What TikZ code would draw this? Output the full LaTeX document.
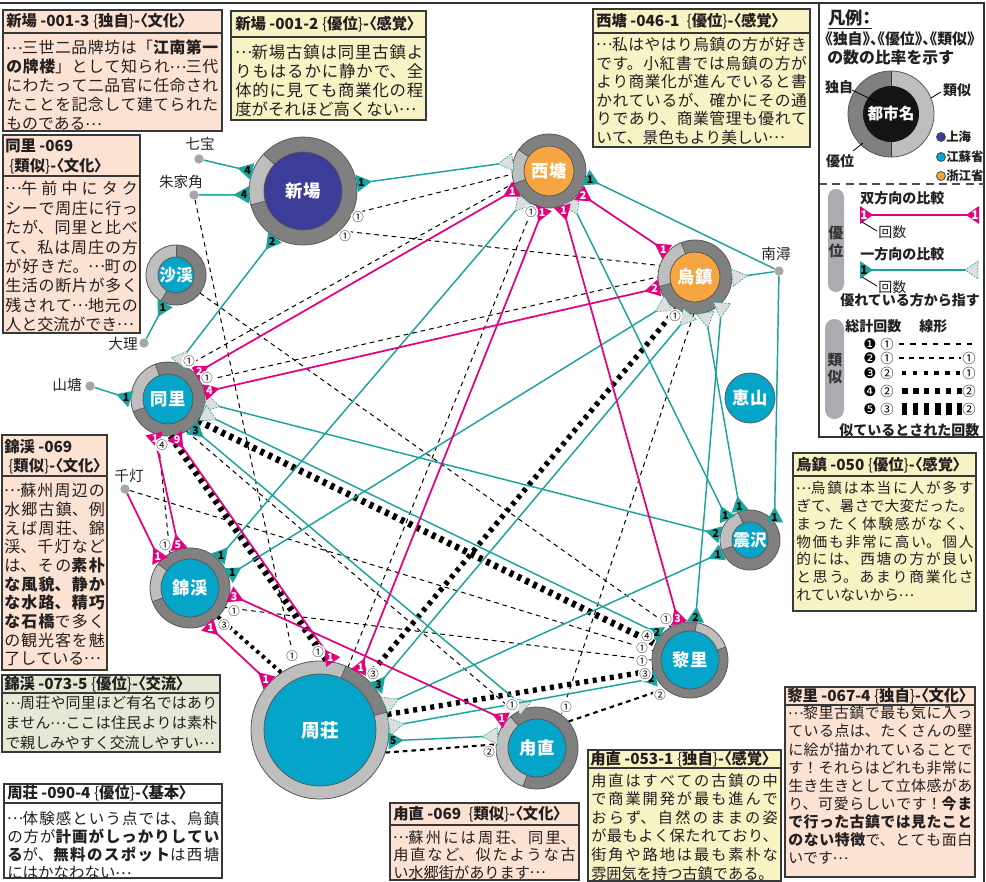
\documentclass[tikz,border=0pt]{standalone}
\usepackage{fontspec}
\setmainfont{Noto Sans CJK JP}
\newfontfamily\paltfont{Noto Sans CJK JP}[RawFeature=+palt]
\newfontfamily\dvfont{DejaVu Sans}
\usetikzlibrary{calc}
\XeTeXlinebreaklocale "ja"
\XeTeXlinebreakskip=0pt plus 3pt minus 0.3pt
\definecolor{tealc}{HTML}{1CA39D}
\definecolor{magc}{HTML}{E4007F}
\definecolor{bluec}{HTML}{04A5C8}
\definecolor{orgc}{HTML}{F5A640}
\definecolor{navyc}{HTML}{3B3D98}
\definecolor{ringd}{HTML}{808080}
\definecolor{ringl}{HTML}{BEBEBE}
\definecolor{pinkc}{HTML}{FCE2D3}
\definecolor{yelc}{HTML}{F7F3C4}
\definecolor{grnc}{HTML}{E3E9D5}
\definecolor{pillc}{HTML}{ABABB2}
\definecolor{dotc}{HTML}{A6A6A6}
\definecolor{inkc}{HTML}{231F20}
\newcommand\hlb{{\mdseries\{}}
\newcommand\hrb{{\mdseries\}}}
\newcommand\el{\makebox[1em][c]{\raisebox{0.3em}[0pt][0pt]{…}}}
\newcommand\town[9]{%
  \fill[ringd] (#2,#3) circle[radius=#4];
  \fill[ringl] (#2,#3) -- ++(-#7:#4) arc[start angle=-#7, end angle=-#8, radius=#4] -- cycle;
  \draw[sepl] (#2,#3) ++(-#7:#5) -- ++(-#7:{#4-#5});
  \draw[sepl] (#2,#3) ++(-#8:#5) -- ++(-#8:{#4-#5});
  \draw[ringo] (#2,#3) circle[radius=#4];
  \fill[#6] (#2,#3) circle[radius=#5];
  \draw[ringo] (#2,#3) circle[radius=#5];
  \node[circle, minimum size={1.5*#4pt}, inner sep=0pt] (#1) at (#2,#3) {};
  \node[townlab] at (#2,#3) {#9};}
\newcommand\tri[4]{%
  \path[#3] ($(#1)!6.5pt!90:(#2)$) -- ($(#1)!11.5pt!(#2)$) -- ($(#1)!6.5pt!-90:(#2)$) -- cycle;
  \node[#3n] at ($(#1)!3.6pt!(#2)$) {#4};}
\newcommand\tedge[4]{%
  \draw[tline] (#1) -- (#2);
  \tri{#1}{#2}{tt}{#3}%
  \if#4y\tri{#2}{#1}{td}{}\fi}
\newcommand\medge[4]{%
  \draw[mline] (#1) -- (#2);
  \tri{#1}{#2}{tm}{#3}%
  \tri{#2}{#1}{tm}{#4}}
\newcommand\tbox[8]{%
  \draw[boxl, fill=#7] (#2,#3) rectangle (#4,#5);
  \draw[boxl] (#2,#6) -- (#4,#6);}
\begin{document}
\begin{tikzpicture}[x=0.75pt, y=-0.75pt,
  boxl/.style={draw=black!78, line width=1.1pt},
  hdr/.style={inner sep=0pt, anchor=west, text=inkc, font=\paltfont\bfseries\fontsize{11.5}{13}\selectfont},
  bodyn/.style={inner sep=0pt, anchor=north west, text=inkc},
  tline/.style={draw=tealc, line width=1.1pt},
  mline/.style={draw=magc, line width=1.3pt},
  tt/.style={fill=tealc},
  ttn/.style={inner sep=0pt, text=black, font=\bfseries\fontsize{8}{8}\selectfont},
  tm/.style={fill=magc},
  tmn/.style={inner sep=0pt, text=white, font=\bfseries\fontsize{8}{8}\selectfont},
  td/.style={fill=black!13, draw=tealc, line width=0.5pt, dash pattern=on 1.2pt off 1pt},
  tdn/.style={inner sep=0pt},
  s1/.style={draw=black, line width=0.75pt, dash pattern=on 3.5pt off 3pt},
  s2/.style={draw=black, line width=1.6pt, dash pattern=on 3.5pt off 3pt},
  s3/.style={draw=black, line width=3pt, dash pattern=on 2.5pt off 3pt},
  s4/.style={draw=black, line width=4pt, dash pattern=on 3pt off 3.5pt},
  s5/.style={draw=black, line width=5pt, dash pattern=on 3pt off 3.5pt},
  cl/.style={inner sep=-0.3pt, circle, fill=white, text=black, font=\fontsize{8.6}{8.6}\selectfont},
  ringo/.style={draw=black!65, line width=0.6pt},
  sepl/.style={draw=black!65, line width=0.6pt},
  townlab/.style={text=white, inner sep=0pt, font=\bfseries},
  dotn/.style={circle, fill=dotc, inner sep=0pt, minimum size=7pt},
  plab/.style={inner sep=0pt, text=black!85, font=\fontsize{11}{11}\selectfont},
  lgb/.style={inner sep=0pt, text=inkc, font=\bfseries\fontsize{10.5}{11}\selectfont},
]
\useasboundingbox (0,0) rectangle (986,882);
\fill[white] (0,0) rectangle (986,882);
% ---------- frame ----------
\draw[line width=1.2pt, black!80] (0,3) -- (984,3) -- (984,882);
% ---------- text boxes ----------
\tbox{b1}{3}{10}{222}{131}{33}{pinkc}{}
\node[hdr] (h1) at (6,21.5) {新場 -001-3 \hlb 独自\hrb-〈文化〉};
\node[bodyn] (t1) at (6,40) {\parbox[t]{159pt}{\fontsize{11.9}{14.25}\selectfont
\el 三世二品牌坊は「{\bfseries 江南第一}\linebreak
{\bfseries の牌楼}」として知られ\el 三代\linebreak
にわたって二品官に任命され\linebreak
たことを記念して建てられた\linebreak
ものである\el}};
\tbox{b2}{231}{11}{426}{120}{37}{yelc}{}
\node[hdr] (h2) at (235,24) {新場 -001-2 \hlb 優位\hrb-〈感覚〉};
\node[bodyn] (t2) at (235,44) {\parbox[t]{141pt}{\fontsize{12.3}{14.25}\selectfont
\el 新場古鎮は同里古鎮よ\linebreak
りもはるかに静かで、全\linebreak
体的に見ても商業化の程\linebreak
度がそれほど高くない\el}};
\tbox{b3}{593}{9}{810}{147}{33}{yelc}{}
\node[hdr] (h3) at (596,21) {西塘 -046-1 \ \hlb 優位\hrb-〈感覚〉};
\node[bodyn] (t3) at (596,37) {\parbox[t]{158pt}{\fontsize{11.8}{13.95}\selectfont
\el 私はやはり烏鎮の方が好き\linebreak
です。小紅書では烏鎮の方が\linebreak
より商業化が進んでいると書\linebreak
かれているが、確かにその通\linebreak
りであり、商業管理も優れて\linebreak
いて、景色もより美しい\el}};
\tbox{b4}{3}{135}{140}{333}{176}{pinkc}{}
\node[hdr, anchor=north west, align=left, font=\paltfont\bfseries\fontsize{11.5}{14.6}\selectfont] (h4) at (5,139) {同里 -069\\\hspace*{3pt}\hlb 類似\hrb-〈文化〉};
\node[bodyn] (t4) at (5,181) {\parbox[t]{99.5pt}{\fontsize{12}{14.57}\selectfont
\el 午前中にタク\linebreak
シーで周庄に行っ\linebreak
たが、同里と比べ\linebreak
て、私は周庄の方\linebreak
が好きだ。\el 町の\linebreak
生活の断片が多く\linebreak
残されて\el 地元の\linebreak
人と交流ができ\el}};
\tbox{b5}{2}{435}{107}{670}{476}{pinkc}{}
\node[hdr, anchor=north west, align=left, font=\paltfont\bfseries\fontsize{11.5}{14.6}\selectfont] (h5) at (4,439) {錦渓 -069\\\hspace*{3pt}\hlb 類似\hrb-〈文化〉};
\node[bodyn] (t5) at (4,483) {\parbox[t]{75.5pt}{\fontsize{12}{14.0}\selectfont
\el 蘇州周辺の\linebreak
水郷古鎮、例\linebreak
えば周荘、錦\linebreak
渓、千灯など\linebreak
は、その{\bfseries 素朴}\linebreak
{\bfseries な風貌、静か}\linebreak
{\bfseries な水路、精巧}\linebreak
{\bfseries な石橋}で多く\linebreak
の観光客を魅\linebreak
了している\el}};
\tbox{b6}{2}{675}{220}{752}{693}{grnc}{}
\node[hdr] (h6) at (4,684) {錦渓 -073-5 \hlb 優位\hrb-〈交流〉};
\node[bodyn] (t6) at (5,696) {\parbox[t]{159pt}{\fontsize{11.2}{15}\selectfont
\el 周荘や同里ほど有名ではあり\linebreak
ません\el ここは住民よりは素朴\linebreak
で親しみやすく交流しやすい\el}};
\tbox{b7}{793}{453}{976}{611}{476}{yelc}{}
\node[hdr] (h7) at (796,465) {烏鎮 -050 \hlb 優位\hrb-〈感覚〉};
\node[bodyn] (t7) at (796,481) {\parbox[t]{133pt}{\fontsize{11}{13.35}\selectfont
\el 烏鎮は本当に人が多す\linebreak
ぎて、暑さで大変だった。\linebreak
まったく体験感がなく、\linebreak
物価も非常に高い。個人\linebreak
的には、西塘の方が良い\linebreak
と思う。あまり商業化さ\linebreak
れていないから\el}};
\tbox{b8}{4}{784}{222}{878}{803}{white}{}
\node[hdr] (h8) at (7,793.5) {周荘 -090-4 \hlb 優位\hrb-〈基本〉};
\node[bodyn] (t8) at (7,811) {\parbox[t]{159pt}{\fontsize{11.6}{13.6}\selectfont
\el 体験感という点では、烏鎮\linebreak
の方が{\bfseries 計画がしっかりしてい}\linebreak
{\bfseries る}が、{\bfseries 無料のスポット}は西塘\linebreak
にはかなわない\el}};
\tbox{b9}{390}{803}{579}{880}{825}{pinkc}{}
\node[hdr] (h9) at (393,814) {甪直 -069 \ \hlb 類似\hrb-〈文化〉};
\node[bodyn] (t9) at (393,830) {\parbox[t]{137pt}{\fontsize{11.4}{13.3}\selectfont
\el 蘇州には周荘、同里、\linebreak
甪直など、似たような古\linebreak
い水郷街があります\el}};
\tbox{b10}{588}{750}{781}{881}{768}{yelc}{}
\node[hdr] (h10) at (590,759) {甪直 -053-1 \hlb 独自\hrb-〈感覚〉};
\node[bodyn] (t10) at (591,773) {\parbox[t]{140pt}{\fontsize{11.4}{13.95}\selectfont
甪直はすべての古鎮の中\linebreak
で商業開発が最も進んで\linebreak
おらず、自然のままの姿\linebreak
が最もよく保たれており、\linebreak
街角や路地は最も素朴な\linebreak
雰囲気を持つ古鎮である。}};
\tbox{b11}{785}{687}{975}{877}{705}{pinkc}{}
\node[hdr] (h11) at (787,696) {黎里 -067-4 \hlb 独自\hrb-〈文化〉};
\node[bodyn] (t11) at (788,706) {\parbox[t]{138pt}{\fontsize{11.2}{13.6}\selectfont
\el 黎里古鎮で最も気に入っ\linebreak
ている点は、たくさんの壁\linebreak
に絵が描かれていることで\linebreak
す！それらはどれも非常に\linebreak
生き生きとして立体感があ\linebreak
り、可愛らしいです！{\bfseries 今ま}\linebreak
{\bfseries で行った古鎮では見たこと}\linebreak
{\bfseries のない特徴}で、とても面白\linebreak
いです\el}};
% ---------- legend ----------
\draw[line width=1.2pt, black!80] (819,3) -- (819,437) -- (984,437);
\node[inner sep=0pt, anchor=west, text=inkc, font=\paltfont\bfseries\fontsize{13}{13}\selectfont] (lg0) at (828,19) {\underline{凡例：}};
\node[inner sep=0pt, anchor=west, text=inkc, font=\paltfont\bfseries\fontsize{11.2}{12}\selectfont] (lg1) at (825,39) {《独自》、《優位》、《類似》};
\node[inner sep=0pt, anchor=west, text=inkc, font=\bfseries\fontsize{11.9}{12}\selectfont] (lg2) at (827,57.5) {の数の比率を示す};
\fill[ringl] (891,114) circle[radius=43];
\fill[ringd] (891,114) -- (891,71) arc[start angle=-90, end angle=-270, radius=43] -- cycle;
\draw[ringo] (891,114) circle[radius=43];
\fill[black!92] (891,114) circle[radius=28];
\draw[black!80, line width=0.6pt] (891,71) -- (891,86) (891,142) -- (891,157);
\node[townlab, font=\bfseries\fontsize{11.7}{12}\selectfont] (lgc) at (891,114) {都市名};
\node[lgb] (lgd) at (839,87) {独自};
\node[lgb] (lgs) at (957,90) {類似};
\node[lgb] (lgy) at (840,161) {優位};
\draw[black, line width=0.6pt] (852,90) -- (879,103);
\draw[black, line width=0.6pt] (941,92) -- (931,98);
\draw[black, line width=0.6pt] (853,151) -- (863,143);
\draw[black!70, line width=0.6pt, fill=navyc] (941,137) circle[radius=4.5];
\draw[black!70, line width=0.6pt, fill=bluec] (941,157) circle[radius=4.5];
\draw[black!70, line width=0.6pt, fill=orgc] (941,176) circle[radius=4.5];
\node[inner sep=0pt, anchor=west, text=inkc, font=\bfseries\fontsize{9.3}{10}\selectfont] (lgsh) at (946,137) {上海};
\node[inner sep=0pt, anchor=west, text=inkc, font=\bfseries\fontsize{9.3}{10}\selectfont] (lgjs) at (946,157) {江蘇省};
\node[inner sep=0pt, anchor=west, text=inkc, font=\bfseries\fontsize{9.3}{10}\selectfont] (lgzj) at (946,176) {浙江省};
\draw[black!70, line width=0.8pt, dash pattern=on 6pt off 4pt] (819,184) -- (984,184);
\fill[pillc, rounded corners=6pt] (828,189) rectangle (844,292);
\node[lgb, text=black!80, font=\bfseries\fontsize{11}{11}\selectfont] (py1) at (836,233) {優};
\node[lgb, text=black!80, font=\bfseries\fontsize{11}{11}\selectfont] (py2) at (836,251) {位};
\node[lgb, anchor=west] (lgbi) at (860,198) {双方向の比較};
\coordinate (lmA) at (860,215);
\coordinate (lmB) at (979,215);
\draw[mline] (lmA) -- (lmB);
\path[tm] (860,206) -- (873,215) -- (860,224) -- cycle;
\path[tm] (979,206) -- (966,215) -- (979,224) -- cycle;
\node[tmn, font=\bfseries\fontsize{9}{9}\selectfont] at (864,215) {1};
\node[tmn, font=\bfseries\fontsize{9}{9}\selectfont] at (975,215) {1};
\draw[black, line width=0.6pt] (862,222) -- (877,231);
\node[inner sep=0pt, anchor=west, text=inkc, font=\fontsize{10.5}{11}\selectfont] (lgk1) at (878,232) {回数};
\node[lgb, anchor=west] (lgone) at (860,254) {一方向の比較};
\coordinate (ltA) at (860,270);
\coordinate (ltB) at (978,270);
\draw[tline] (ltA) -- (ltB);
\path[tt] (860,261) -- (873,270) -- (860,279) -- cycle;
\path[td] (978,261) -- (965,270) -- (978,279) -- cycle;
\node[ttn, font=\bfseries\fontsize{9}{9}\selectfont] at (864,270) {1};
\draw[black, line width=0.6pt] (862,277) -- (877,286);
\node[inner sep=0pt, anchor=west, text=inkc, font=\fontsize{10.5}{11}\selectfont] (lgk2) at (878,287) {回数};
\node[lgb, anchor=west] (lgpt) at (840,300) {優れている方から指す};
\fill[pillc, rounded corners=7pt] (825,319) rectangle (844,419);
\node[lgb, text=black!80, font=\bfseries\fontsize{11}{11}\selectfont] (pr1) at (835,360) {類};
\node[lgb, text=black!80, font=\bfseries\fontsize{11}{11}\selectfont] (pr2) at (835,377) {似};
\node[lgb, anchor=west] (lgsum) at (845,326) {総計回数};
\node[lgb, anchor=west] (lgfm) at (919,326) {線形};
\foreach \yy/\na/\cb/\ce in {344/❶/①/, 358/❷/①/①, 373/❸/②/①, 391/❹/②/②, 409/❺/③/②}{
  \node[inner sep=0pt, font=\dvfont\fontsize{11}{11}\selectfont] at (870,\yy) {\na};
  \node[inner sep=0pt, font=\fontsize{10}{10}\selectfont] at (887,\yy) {\cb};
  \node[inner sep=0pt, font=\fontsize{10}{10}\selectfont] at (969,\yy) {\ce};
}
\draw[black, line width=0.8pt, dash pattern=on 4pt off 4.5pt] (899,344) -- (972,344);
\draw[black, line width=1.7pt, dash pattern=on 4pt off 3.5pt] (899,358) -- (961,358);
\draw[black, line width=3.3pt, dash pattern=on 3.3pt off 4.8pt] (902,373) -- (962,373);
\draw[black, line width=5pt, dash pattern=on 4.2pt off 4pt] (902,391) -- (962,391);
\draw[black, line width=9pt, dash pattern=on 4pt off 4.3pt] (902,409) -- (962,409);
\node[lgb, anchor=west] (lgsim) at (839,430) {似ているとされた回数};
% ---------- towns ----------
\town{XC}{303}{191}{54}{39}{navyc}{137}{195}{\fontsize{13}{13}\selectfont 新場}
\town{XT}{549}{171}{37}{25}{orgc}{145}{200}{\fontsize{13}{13}\selectfont 西塘}
\town{WZ}{695}{277}{37}{25}{orgc}{112}{195}{\fontsize{13}{13}\selectfont 烏鎮}
\town{TL}{168}{399}{37}{25}{bluec}{110}{200}{\fontsize{13}{13}\selectfont 同里}
\town{SX}{176}{275}{30}{18}{bluec}{90}{240}{\fontsize{12.5}{13}\selectfont 沙渓}
\town{ZZ}{750}{540}{30}{18}{bluec}{113}{200}{\fontsize{12.5}{13}\selectfont 震沢}
\town{JX}{190}{588}{40}{29}{bluec}{143}{200}{\fontsize{13}{13}\selectfont 錦渓}
\town{ZH}{320}{730}{69}{56}{bluec}{68}{375}{\fontsize{14}{14}\selectfont 周荘}
\town{LZ}{537}{748}{41}{29}{bluec}{130}{250}{\fontsize{13}{13}\selectfont 甪直}
\town{LL}{690}{660}{38}{29}{bluec}{20}{80}{\fontsize{13}{13}\selectfont 黎里}
\fill[bluec] (750,398) circle[radius=25];
\draw[ringo] (750,398) circle[radius=25];
\node[circle, minimum size=37.5pt, inner sep=0pt] (HS) at (750,398) {};
\node[townlab, font=\bfseries\fontsize{13}{13}\selectfont] at (HS) {恵山};
% ---------- outside places ----------
\node[dotn] (QB) at (199,159) {};
\node[dotn] (ZJJ) at (194,195) {};
\node[dotn] (DL) at (144,343) {};
\node[dotn] (ST) at (90,386) {};
\node[dotn] (QD) at (125,489) {};
\node[dotn] (NX) at (779,271) {};
\node[plab] (QBl) at (200,144) {七宝};
\node[plab] (ZJJl) at (181,182) {朱家角};
\node[plab] (DLl) at (123,344) {大理};
\node[plab] (STl) at (67,385) {山塘};
\node[plab] (QDl) at (129,476) {千灯};
\node[plab] (NXl) at (776,254) {南潯};
% ---------- similarity lines ----------
\draw[s1] (XC.335) -- (XT.185);
\draw[s1] (XC.313) -- (WZ.162);
\draw[s1] (TL.61) -- (XT.199);
\draw[s1] (TL.28) -- (WZ.180);
\draw[s1] (ZJJ) -- (ZH.111);
\draw[s1] (JX.120) -- (TL.254);
\draw[s1] (JX.331) -- (LL.180);
\draw[s1] (QD) -- (LL.166);
\draw[s1] (SX.323) -- (LL.120);
\draw[s1] (XT.246) -- (ZH.66);
\draw[s1] (WZ.268) -- (LZ.54);
\draw[s1] (TL.300) -- (LZ.121);
\draw[s2] (ZH.341) -- (LZ.175);
\draw[s2] (LZ.40) -- (LL.229);
\draw[s3] (JX.314) -- (ZH.124);
\draw[s4] (WZ.240) -- (ZH.48);
\draw[s4] (ZH.13) -- (LL.196);
\draw[s5] (TL.274) -- (ZH.84);
\draw[s5] (TL.324) -- (LL.155);
% ---------- teal (one-way) ----------
\tedge{XC.159}{QB}{4}{n}
\tedge{XC.184}{ZJJ}{4}{n}
\tedge{XC.8}{XT.166}{1}{y}
\tedge{XC.239}{TL.74}{2}{y}
\tedge{SX.249}{DL}{1}{n}
\tedge{TL.180}{ST}{1}{n}
\tedge{XT.350}{NX}{1}{n}
\draw[tline] (NX) -- (WZ.359);
\tri{WZ.359}{NX}{td}{}
\tedge{ZZ.36}{NX}{1}{n}
\tedge{JX.46}{XT.230}{1}{y}
\tedge{JX.18}{WZ.225}{1}{y}
\tedge{ZH.37}{WZ.262}{3}{y}
\tedge{ZZ.138}{XT.306}{1}{y}
\tedge{ZZ.109}{WZ.286}{1}{y}
\tedge{LL.82}{WZ.316}{2}{y}
\tedge{ZZ.170}{TL.354}{2}{y}
\tedge{LL.139}{TL.338}{2}{y}
\tedge{TL.310}{LZ.106}{3}{y}
\tedge{ZZ.204}{ZH.21}{1}{y}
\tedge{LL.208}{ZH.3}{2}{y}
\tedge{ZH.351}{LZ.163}{5}{y}
% ---------- magenta (two-way) ----------
\medge{XT.209}{TL.43}{1}{2}
\medge{WZ.197}{TL.11}{2}{4}
\medge{XT.324}{WZ.138}{2}{1}
\medge{XT.262}{ZH.56}{1}{1}
\medge{XT.291}{LL.107}{1}{3}
\medge{TL.248}{JX.106}{1}{5}
\medge{TL.280}{ZH.79}{9}{1}
\draw[mline] (QD) -- (JX.138);
\tri{JX.138}{QD}{tm}{1}
\medge{JX.351}{LZ.138}{3}{1}
\medge{JX.295}{ZH.137}{1}{1}
% ---------- circled counts ----------
\node[cl] at (358,217) {①};
\node[cl] at (345,236) {①};
\node[cl] at (189,361) {①};
\node[cl] at (207,378) {①};
\node[cl] at (162,445) {④};
\node[cl] at (531,212) {①};
\node[cl] at (675,316) {①};
\node[cl] at (165,545) {①};
\node[cl] at (234,611) {①};
\node[cl] at (224,625) {③};
\node[cl] at (292,656) {①};
\node[cl] at (318,652) {①};
\node[cl] at (373,674) {③};
\node[cl] at (666,619) {①};
\node[cl] at (647,636) {④};
\node[cl] at (642,648) {①};
\node[cl] at (642,661) {①};
\node[cl] at (645,674) {③};
\node[cl] at (660,695) {②};
\node[cl] at (512,705) {①};
\node[cl] at (566,707) {①};
\node[cl] at (489,752) {②};
\end{tikzpicture}
\end{document}
